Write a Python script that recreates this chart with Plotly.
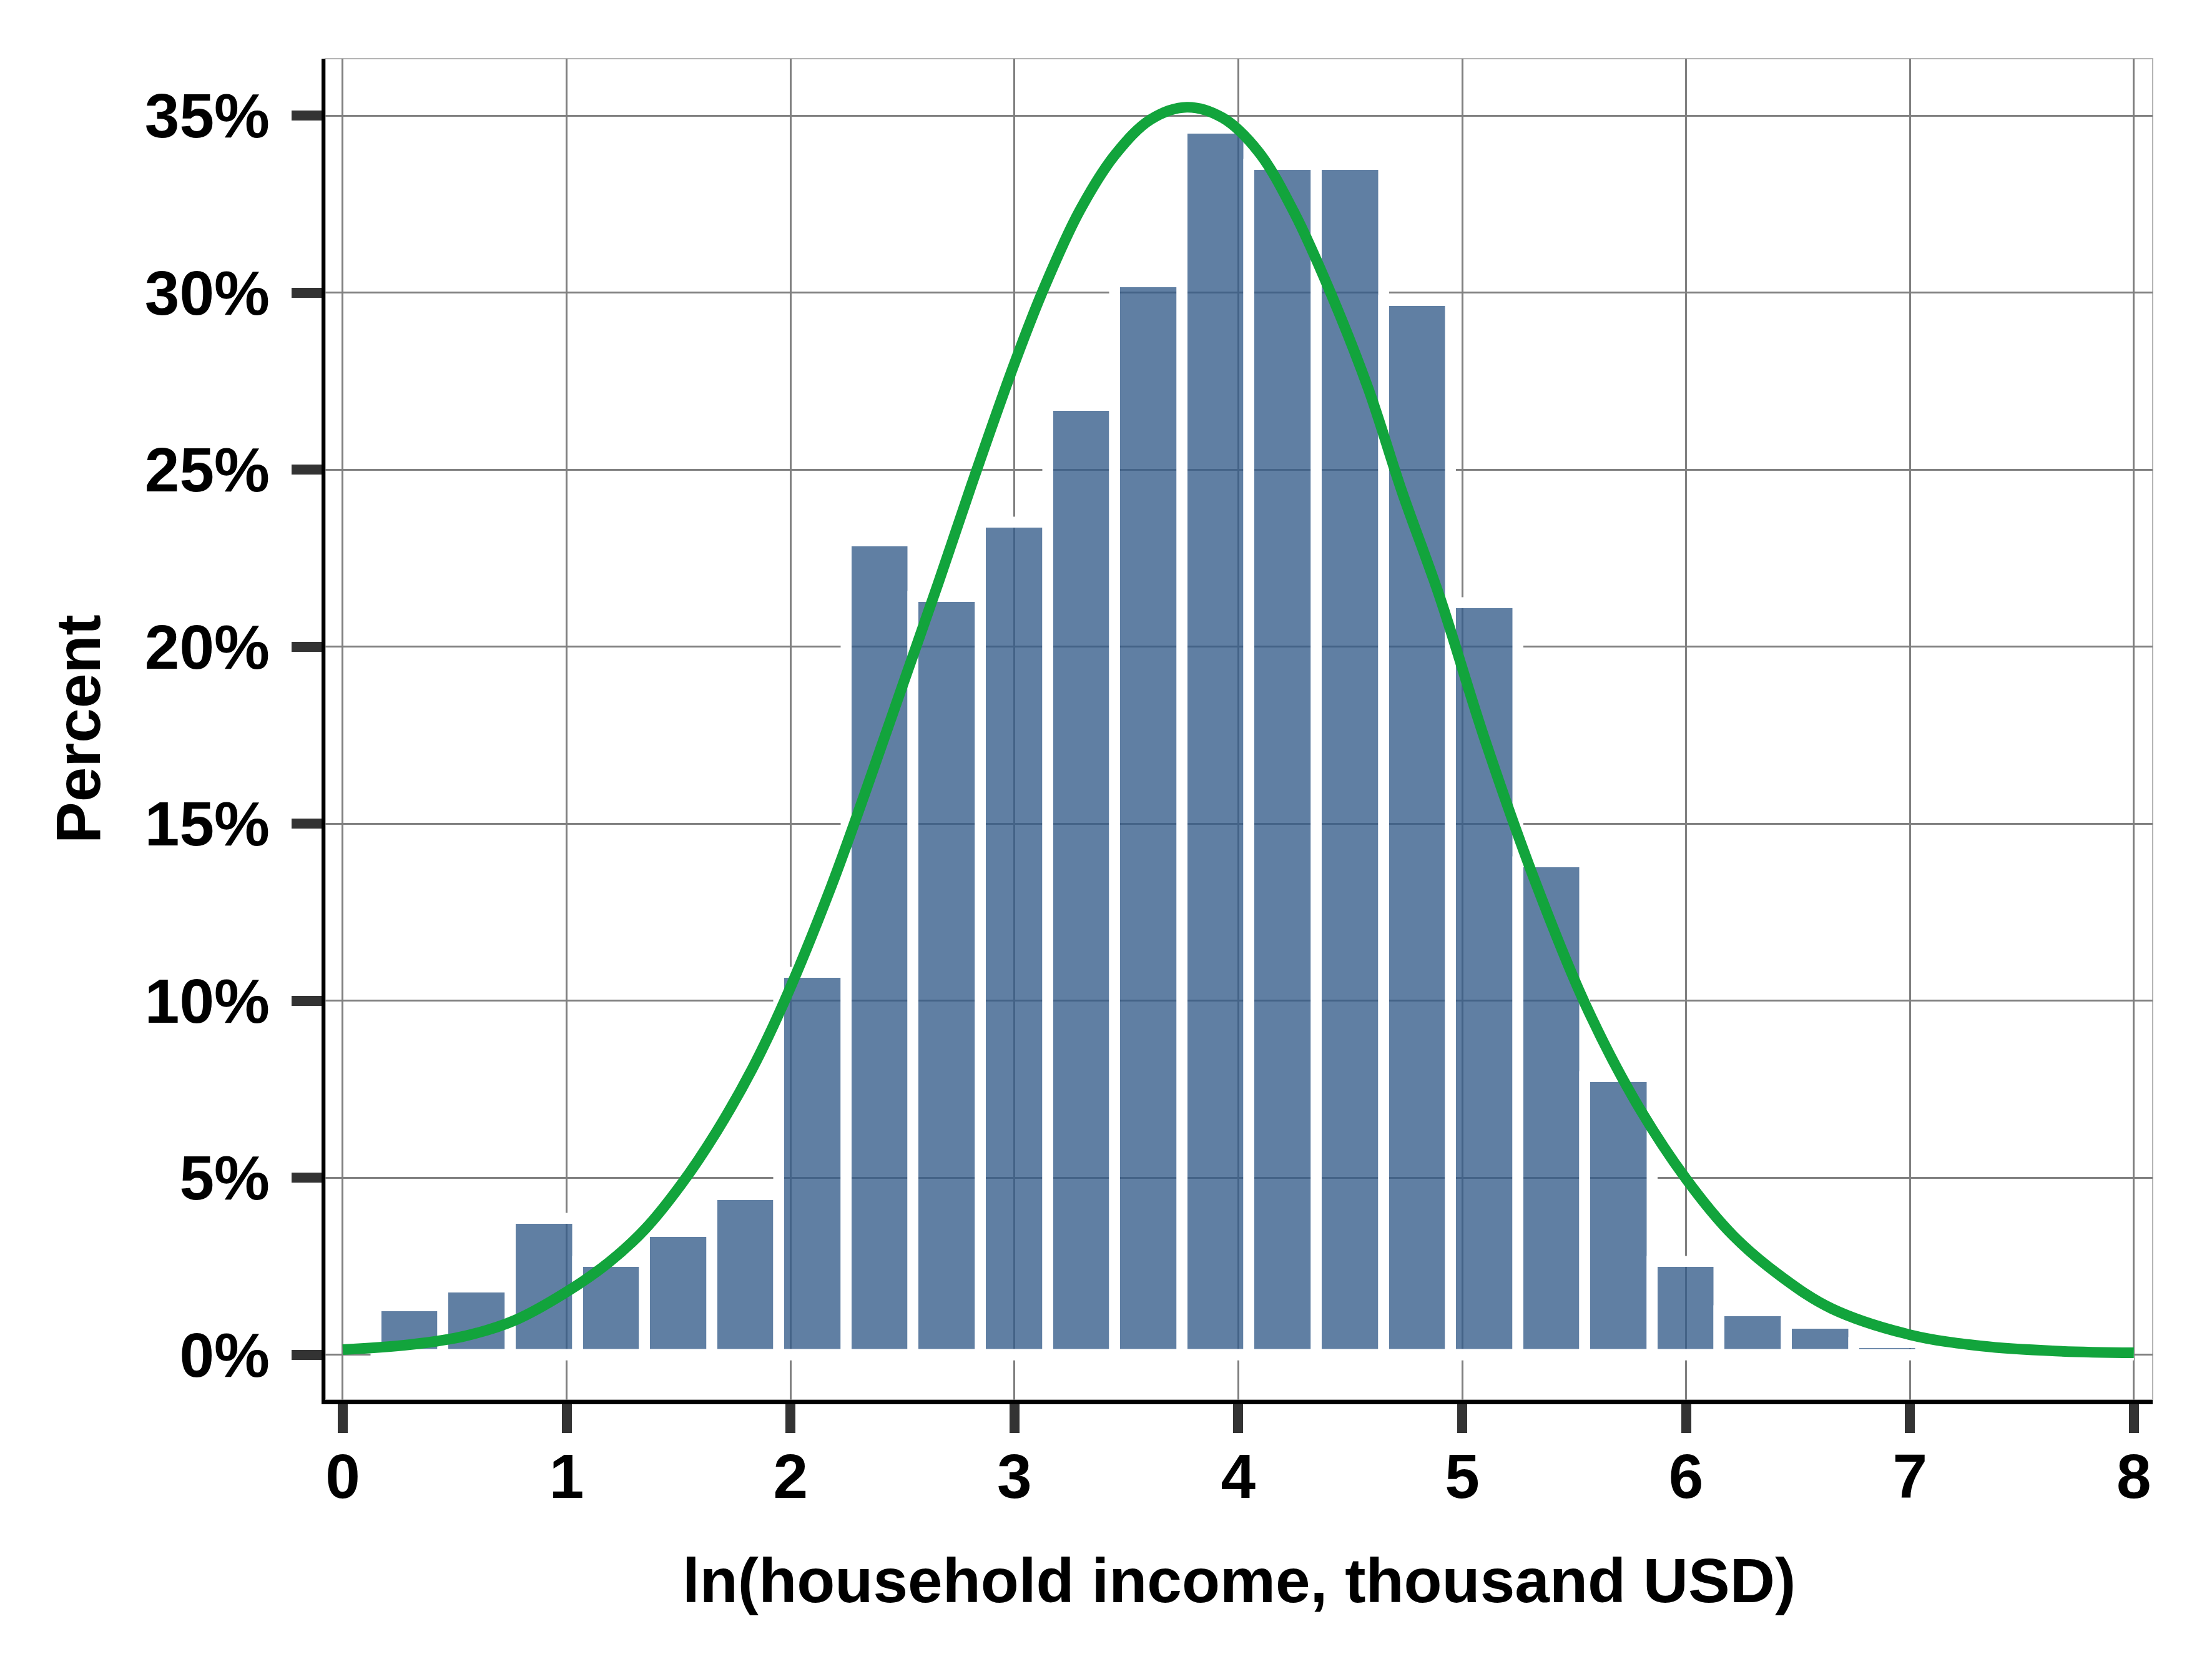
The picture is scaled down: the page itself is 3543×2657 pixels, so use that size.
import plotly.graph_objects as go

# histogram bins (width 0.3, centres) and bar heights in percent
BIN_WIDTH = 0.3
BIN_CENTERS = [0.3, 0.6, 0.9, 1.2, 1.5, 1.8, 2.1, 2.4, 2.7, 3.0, 3.3, 3.6,
               3.9, 4.2, 4.5, 4.8, 5.1, 5.4, 5.7, 6.0, 6.3, 6.6, 6.9]
BAR_PCT = [1.38, 1.91, 3.84, 2.62, 3.48, 4.52, 10.80, 22.97, 21.40, 23.50,
           26.81, 30.29, 34.63, 33.61, 33.61, 29.76, 21.23, 13.92, 7.84,
           2.62, 1.23, 0.89, 0.34]

# fitted density curve
CURVE_X = [0.00, 0.30, 0.55, 0.77, 1.00, 1.19, 1.35, 1.51, 1.67, 1.83, 1.97,
           2.18, 2.34, 2.50, 2.66, 2.81, 3.00, 3.13, 3.29, 3.45, 3.61, 3.77,
           3.93, 4.09, 4.25, 4.41, 4.58, 4.73, 4.90, 5.10, 5.33, 5.55, 5.77,
           6.00, 6.21, 6.43, 6.65, 7.00, 7.32, 7.65, 8.00]
CURVE_PCT = [0.15, 0.29, 0.54, 0.98, 1.78, 2.62, 3.55, 4.80, 6.31, 8.09, 9.95,
             13.2, 16.0, 18.9, 21.8, 24.6, 28.0, 30.1, 32.3, 33.9, 34.9, 35.24,
             34.94, 33.98, 32.26, 30.03, 27.3, 24.4, 21.4, 17.4, 13.3, 9.9, 7.2,
             4.97, 3.37, 2.19, 1.31, 0.57, 0.25, 0.11, 0.06]

X_TICKS = [0, 1, 2, 3, 4, 5, 6, 7, 8]
Y_TICKS = [0, 5, 10, 15, 20, 25, 30, 35]
Y_TICK_TEXT = ["0%", "5%", "10%", "15%", "20%", "25%", "30%", "35%"]

FONT = "Liberation Sans, Arial, sans-serif"
BAR_LINE = 17.5

fig = go.Figure()

fig.add_trace(go.Bar(
    x=BIN_CENTERS, y=BAR_PCT, width=BIN_WIDTH,
    marker=dict(color="rgba(51,91,137,0.78)",
                line=dict(color="white", width=BAR_LINE)),
    hoverinfo="skip",
))

fig.add_trace(go.Scatter(
    x=CURVE_X, y=CURVE_PCT, mode="lines",
    line=dict(color="#12A43C", width=17, shape="spline", smoothing=1),
    hoverinfo="skip",
))

# white baseline band (bar outlines continue along zero up to x=8)
fig.add_shape(type="line", xref="x", yref="y",
              x0=BIN_CENTERS[0] - BIN_WIDTH / 2, x1=X_TICKS[-1], y0=0, y1=0,
              line=dict(color="white", width=BAR_LINE), layer="between")

# light frame on the top and right
fig.add_shape(type="rect", xref="paper", yref="paper", x0=0, x1=1, y0=0, y1=1,
              line=dict(color="#b4b4b4", width=2), layer="below")

tick_font = dict(family=FONT, size=100, color="black", weight="bold")

fig.update_xaxes(
    range=[-0.078, 8.084], tickvals=X_TICKS,
    showgrid=True, gridcolor="#808080", gridwidth=3, zeroline=False,
    showline=True, linecolor="black", linewidth=7,
    ticks="outside", ticklen=46, tickwidth=16, tickcolor="#333333",
    ticklabelstandoff=-16, tickfont=tick_font,
)
fig.update_yaxes(
    range=[-1.27, 36.61], tickvals=Y_TICKS, ticktext=Y_TICK_TEXT,
    showgrid=True, gridcolor="#808080", gridwidth=3, zeroline=False,
    showline=True, linecolor="black", linewidth=6,
    ticks="outside", ticklen=48, tickwidth=16, tickcolor="#333333",
    ticklabelstandoff=15, tickfont=tick_font,
)

fig.add_annotation(text="ln(household income, thousand USD)", xref="paper", yref="paper",
                   x=0.5, y=0, xanchor="center", yanchor="middle", yshift=-289,
                   showarrow=False, font=tick_font)
fig.add_annotation(text="Percent", xref="paper", yref="paper",
                   x=0, y=0.5, xanchor="center", yanchor="middle", xshift=-396,
                   textangle=-90, showarrow=False, font=tick_font)

# margins allow for the page's default 8px body offset
fig.update_layout(
    width=3543, height=2657,
    margin=dict(l=513, r=103, t=86, b=423),
    paper_bgcolor="white", plot_bgcolor="white",
    showlegend=False, bargap=0,
)

fig.write_html("out.html")
